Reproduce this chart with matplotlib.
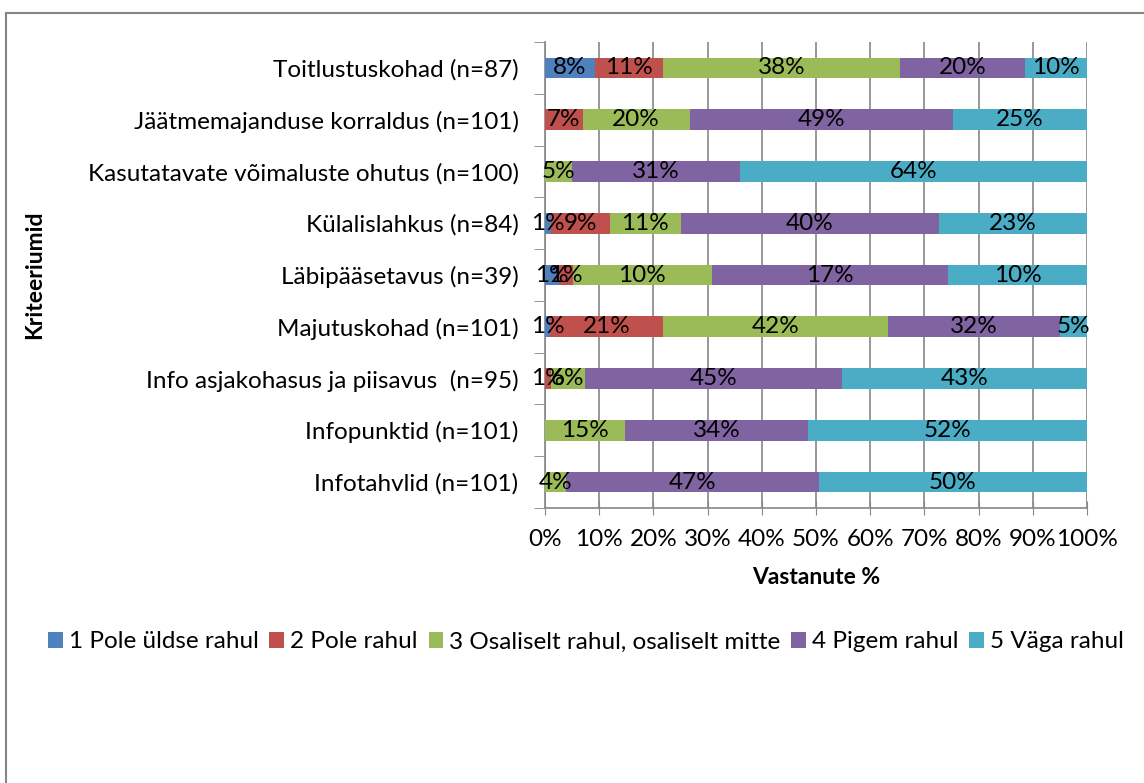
import matplotlib.pyplot as plt
from matplotlib.lines import Line2D
import numpy as np

plt.rcParams['font.family'] = ['Lato', 'DejaVu Sans']

# categories, top to bottom
categories = [
    "Toitlustuskohad (n=87)",
    "Jäätmemajanduse korraldus (n=101)",
    "Kasutatavate võimaluste ohutus (n=100)",
    "Külalislahkus (n=84)",
    "Läbipääsetavus (n=39)",
    "Majutuskohad (n=101)",
    "Info asjakohasus ja piisavus  (n=95)",
    "Infopunktid (n=101)",
    "Infotahvlid (n=101)",
]

series_names = [
    "1 Pole üldse rahul",
    "2 Pole rahul",
    "3 Osaliselt rahul, osaliselt mitte",
    "4 Pigem rahul",
    "5 Väga rahul",
]

# respondent counts per answer (labels in the source show these with a % sign)
pole_yldse_rahul = [8, 0, 0, 1, 1, 1, 0, 0, 0]
pole_rahul = [11, 7, 0, 9, 1, 21, 1, 0, 0]
osaliselt = [38, 20, 5, 11, 10, 42, 6, 15, 4]
pigem_rahul = [20, 49, 31, 40, 17, 32, 45, 34, 47]
vaga_rahul = [10, 25, 64, 23, 10, 5, 43, 52, 50]

colors = ["#4F81BD", "#C0504D", "#9BBB59", "#8064A2", "#4BACC6"]

counts = np.array([pole_yldse_rahul, pole_rahul, osaliselt, pigem_rahul, vaga_rahul], dtype=float)
shares = counts / counts.sum(axis=0)

fs = 17.5

fig = plt.figure(figsize=(11.44, 7.83), dpi=100)
ax = fig.add_axes([545 / 1144, 1 - 508 / 783, 542 / 1144, 466 / 783])

n = len(categories)
y = np.arange(n)[::-1]
left = np.zeros(n)
for i, name in enumerate(series_names):
    bars = ax.barh(y, shares[i], left=left, height=0.4, color=colors[i],
                   label=name, zorder=3)
    labels = [f"{int(c)}%" if c > 0 else "" for c in counts[i]]
    ax.bar_label(bars, labels=labels, label_type='center', fontsize=fs,
                 color='black', zorder=4)
    left += shares[i]

ax.set_xlim(0, 1)
ax.set_ylim(-0.5, n - 0.5)
ax.set_xticks(np.linspace(0, 1, 11))
ax.set_xticklabels([f"{int(v)}%" for v in np.linspace(0, 100, 11)], fontsize=fs)
ax.tick_params(axis='x', direction='inout', length=10, color='#868686', pad=10)
ax.grid(axis='x', color='#868686', lw=1.2, zorder=0)

ax.set_yticks(y)
ax.set_yticklabels(categories, fontsize=fs)
ax.set_yticks(np.arange(-0.5, n), minor=True)
ax.tick_params(axis='y', which='major', length=0, pad=19)
ax.tick_params(axis='y', which='minor', length=8, color='#868686', direction='out')

for s in ['top', 'right']:
    ax.spines[s].set_visible(False)
for s in ['left', 'bottom']:
    ax.spines[s].set_color('#868686')
    ax.spines[s].set_linewidth(1.2)

ax.set_xlabel("Vastanute %", fontsize=fs - 1, fontweight='bold', labelpad=12)
fig.text(35 / 1144, 1 - 275 / 783, "Kriteeriumid", rotation=90, fontsize=fs - 1,
         fontweight='bold', ha='center', va='center')

fig.legend(loc='center', bbox_to_anchor=(586 / 1144, 1 - 642 / 783), ncol=5,
           frameon=False, fontsize=fs, handlelength=0.6, handleheight=0.6,
           handletextpad=0.25, columnspacing=0.45, borderpad=0.1)

# chart area border (left and top edges visible)
fig.add_artist(Line2D([6 / 1144, 6 / 1144], [0, 1 - 13 / 783], transform=fig.transFigure,
                      color='#868686', lw=1.5))
fig.add_artist(Line2D([6 / 1144, 1], [1 - 13 / 783, 1 - 13 / 783], transform=fig.transFigure,
                      color='#868686', lw=1.5))

fig.savefig("out.png", dpi=100, facecolor='white')
